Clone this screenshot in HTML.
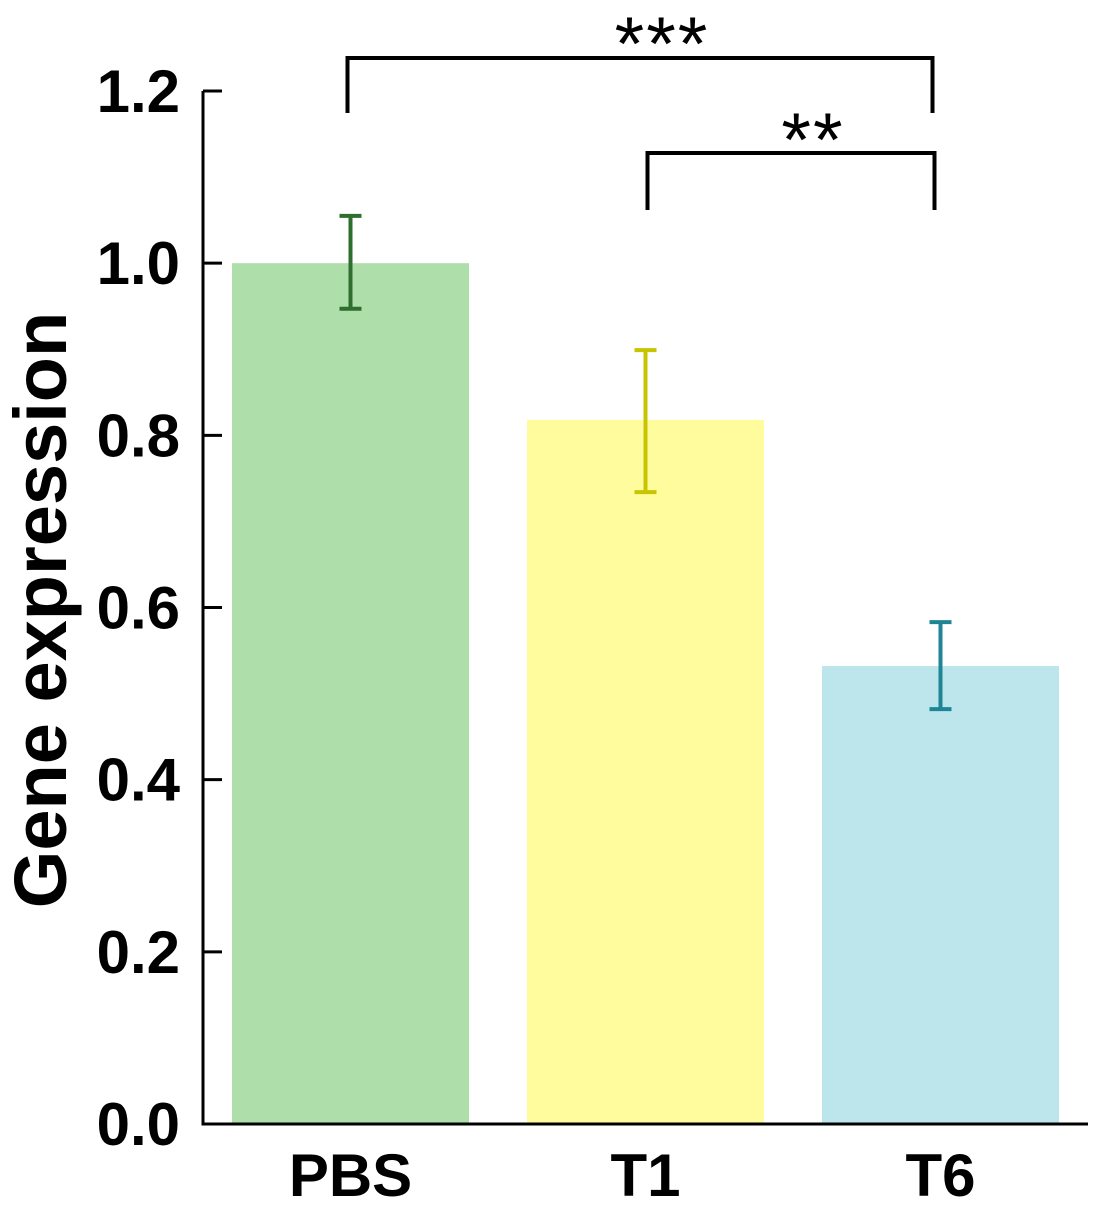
<!DOCTYPE html>
<html><head><meta charset="utf-8"><style>
html,body{margin:0;padding:0;background:#fff;}
svg{display:block;font-family:"Liberation Sans",Arial,sans-serif;font-weight:bold;}
</style></head><body>
<svg id="chart" width="1110" height="1226" viewBox="0 0 1110 1226">
<g id="plot"></g>
</svg>
<script>
const categories = ["PBS","T1","T6"];
const values = [1.0, 0.818, 0.532];
const errHigh = [1.055, 0.899, 0.583];
const errLow = [0.947, 0.734, 0.482];
const fills = ["#aedfab","#fffc9e","#bde6ec"];
const errColors = ["#2f6e2f","#c8c400","#1f8595"];
const yTicks = [0,0.2,0.4,0.6,0.8,1.0,1.2];
const yTickLabels = ["0.0","0.2","0.4","0.6","0.8","1.0","1.2"];
const sigPairs = [[0,2],[1,2]];
const sigLabels = ["***","**"];

const NS="http://www.w3.org/2000/svg";
const g=document.getElementById('plot');
const x0=203, y0=1124, yTop=91, yMax=1.2;
const y=v=>y0-(v/yMax)*(y0-yTop);
const bandStart=232, bandStep=295, barW=237;
const xC=i=>bandStart+i*bandStep+barW/2;
function mk(t,a){const e=document.createElementNS(NS,t);for(const k in a)e.setAttribute(k,a[k]);g.appendChild(e);return e;}

categories.forEach((c,i)=>{
  const r=mk('rect',{x:bandStart+i*bandStep,y:y(values[i]),width:barW,height:y0-y(values[i]),fill:fills[i]});
  
  
  const cx=xC(i);
  const eg=mk('path',{d:`M${cx},${y(errHigh[i])}V${y(errLow[i])}M${cx-11},${y(errHigh[i])}H${cx+11}M${cx-11},${y(errLow[i])}H${cx+11}`,stroke:errColors[i],'stroke-width':4,fill:'none'});
  
  
  const t=mk('text',{x:cx,y:1196,'text-anchor':'middle','font-size':60,fill:'#000'});
  t.textContent=c;
  
  
});

const ax=mk('path',{d:`M${x0},${yTop}V${y0}H1088`,stroke:'#000','stroke-width':3,fill:'none'});


yTicks.forEach((v,i)=>{
  const tk=mk('line',{x1:x0,x2:222,y1:y(v),y2:y(v),stroke:'#000','stroke-width':3});
  
  
  const t=mk('text',{x:180,y:y(v)+21,'text-anchor':'end','font-size':60,fill:'#000'});
  t.textContent=yTickLabels[i];
  
  
});

const brY=[58,153], legB=[113,210];
const starBase=[70,166];
sigPairs.forEach((p,k)=>{
  const xa=xC(p[0])-3+k*5, xb=xC(p[1])-8+k*2;
  const b=mk('path',{d:`M${xa},${legB[k]}V${brY[k]}H${xb}V${legB[k]}`,stroke:'#000','stroke-width':4,fill:'none'});
  
  
  const t=mk('text',{x:(xa+xb)/2+22,y:starBase[k],'text-anchor':'middle','font-size':76,'font-weight':'normal',fill:'#000','letter-spacing':'2'});
  t.textContent=sigLabels[k];
  
  
});

const yt=mk('text',{x:0,y:0,'text-anchor':'middle','font-size':74,fill:'#000',transform:'translate(66,610) rotate(-90)'});
yt.textContent='Gene expression';


</script>
</body></html>
